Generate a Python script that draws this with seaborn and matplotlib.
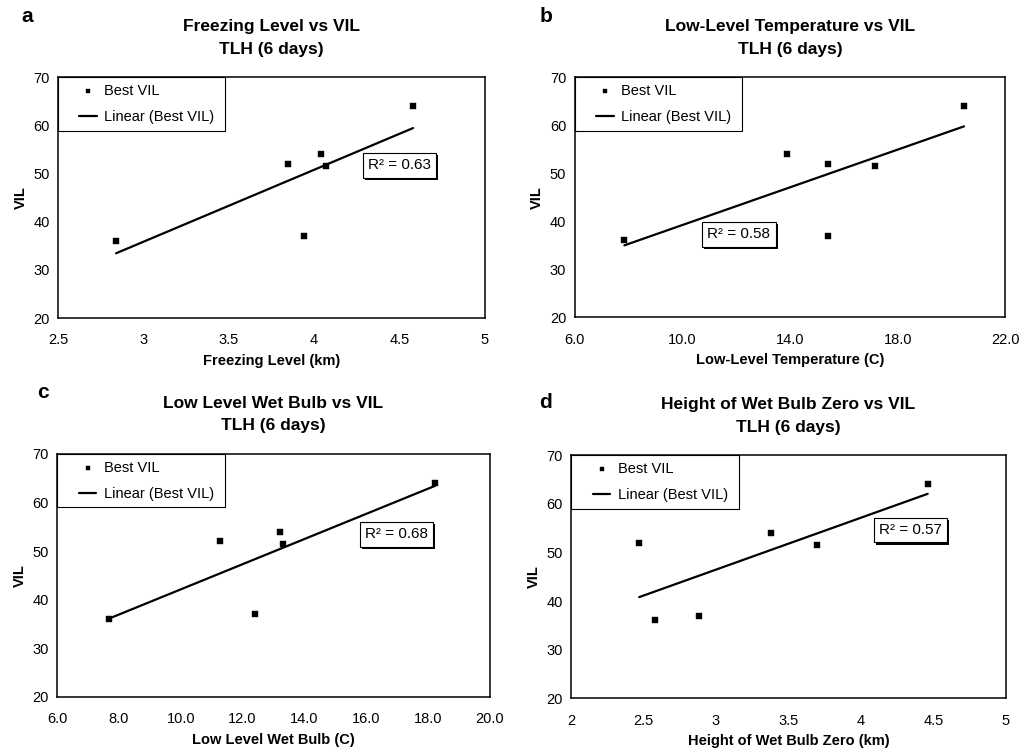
import numpy as np
import pandas as pd
import matplotlib
matplotlib.use("Agg")
import matplotlib.pyplot as plt
import matplotlib.patches as mpatches
import matplotlib.patheffects as pe
import matplotlib.ticker as mticker
import seaborn as sns

# values (same six days in each)
best_vil = [36, 52, 37, 54, 51.5, 64]
freezing_level = [2.84, 3.85, 3.94, 4.04, 4.07, 4.58]
low_level_temp = [7.85, 15.4, 15.4, 13.9, 17.14, 20.46]
low_level_wet_bulb = [7.67, 11.28, 12.40, 13.20, 13.31, 18.22]
wet_bulb_zero = [2.58, 2.47, 2.88, 3.38, 3.70, 4.46]

panel_letters = ["a", "b", "c", "d"]
panel_titles = ["Freezing Level vs VIL", "Low-Level Temperature vs VIL",
                "Low Level Wet Bulb vs VIL", "Height of Wet Bulb Zero vs VIL"]
x_labels = ["Freezing Level (km)", "Low-Level Temperature (C)",
            "Low Level Wet Bulb (C)", "Height of Wet Bulb Zero (km)"]
x_ticks = [[2.5, 3, 3.5, 4, 4.5, 5],
           [6.0, 10.0, 14.0, 18.0, 22.0],
           [6.0, 8.0, 10.0, 12.0, 14.0, 16.0, 18.0, 20.0],
           [2, 2.5, 3, 3.5, 4, 4.5, 5]]
y_ticks = [20, 30, 40, 50, 60, 70]

sns.set_theme(style="white")
plt.rcParams["font.family"] = ["Liberation Sans", "DejaVu Sans"]
plt.rcParams["text.color"] = "black"
plt.rcParams["axes.labelcolor"] = "black"
plt.rcParams["xtick.color"] = "black"
plt.rcParams["ytick.color"] = "black"

W, H = 1026, 750


def draw_panel(fig, rect, x_values, letter, letter_px, title, xlabel, ticks, fmt, r2_xy):
    ax = fig.add_axes(rect)
    df = pd.DataFrame({"x": x_values, "vil": best_vil})

    sns.scatterplot(data=df, x="x", y="vil", ax=ax, marker="s", s=13,
                    color="black", edgecolor="black", label="Best VIL")
    sns.regplot(data=df, x="x", y="vil", ax=ax, scatter=False, ci=None,
                truncate=True, color="black", line_kws={"lw": 1.6},
                label="Linear (Best VIL)")

    ax.set_xlim(ticks[0], ticks[-1])
    ax.set_ylim(20, 70)
    ax.set_xticks(ticks)
    ax.set_yticks(y_ticks)
    ax.xaxis.set_major_formatter(mticker.FuncFormatter(lambda v, p: fmt.format(v)))
    ax.tick_params(labelsize=10.5, length=3, direction="in", pad=6)
    ax.tick_params(axis="x", pad=11)

    for s in ax.spines.values():
        s.set_color("black")
        s.set_linewidth(1.1)

    ax.set_xlabel(xlabel, fontsize=10.5, fontweight="bold", labelpad=5)
    ax.set_ylabel("VIL", fontsize=10.5, fontweight="bold", labelpad=4)
    ax.set_title(title + "\nTLH (6 days)", fontsize=12.5, fontweight="bold",
                 pad=17, linespacing=1.65)

    # legend without its own frame, shifted in from the corner; frame drawn below
    leg = ax.legend(loc="upper left", bbox_to_anchor=(0.035, 1.0), borderaxespad=0,
                    fontsize=10.5, frameon=False, handlelength=1.2,
                    handletextpad=0.5, borderpad=0.45, labelspacing=0.85,
                    markerscale=0.9)
    fig.canvas.draw()
    bb = leg.get_window_extent().transformed(ax.transAxes.inverted())
    frame = mpatches.Rectangle((0, bb.y0), bb.x1 + 0.01, 1 - bb.y0,
                               transform=ax.transAxes, fc="white", ec="black",
                               lw=0.8, zorder=4)
    ax.add_patch(frame)

    r = np.corrcoef(x_values, best_vil)[0, 1]
    txt = ax.text(r2_xy[0], r2_xy[1], f"R² = {r * r:.2f}", transform=ax.transAxes,
                  ha="center", va="center", fontsize=11,
                  bbox=dict(boxstyle="square,pad=0.35", fc="white", ec="black", lw=0.8))
    txt.get_bbox_patch().set_path_effects(
        [pe.withSimplePatchShadow(offset=(1.5, -1.5), shadow_rgbFace="black", alpha=1.0)])

    fig.text(letter_px[0] / W, 1 - letter_px[1] / H, letter,
             fontsize=15, fontweight="bold", ha="center", va="center")
    return ax


fig = plt.figure(figsize=(10.26, 7.5), dpi=100)

draw_panel(fig, [0.0565, 0.576, 0.416, 0.321], freezing_level, panel_letters[0], (27, 17),
           panel_titles[0], x_labels[0], x_ticks[0], "{:g}", (0.80, 0.634))
draw_panel(fig, [0.560, 0.577, 0.420, 0.320], low_level_temp, panel_letters[1], (546, 17),
           panel_titles[1], x_labels[1], x_ticks[1], "{:.1f}", (0.381, 0.345))
draw_panel(fig, [0.0556, 0.0707, 0.422, 0.324], low_level_wet_bulb, panel_letters[2], (43, 393),
           panel_titles[2], x_labels[2], x_ticks[2], "{:.1f}", (0.784, 0.670))
draw_panel(fig, [0.5565, 0.069, 0.424, 0.324], wet_bulb_zero, panel_letters[3], (545, 402),
           panel_titles[3], x_labels[3], x_ticks[3], "{:g}", (0.78, 0.692))

fig.savefig("out.png", dpi=100)
